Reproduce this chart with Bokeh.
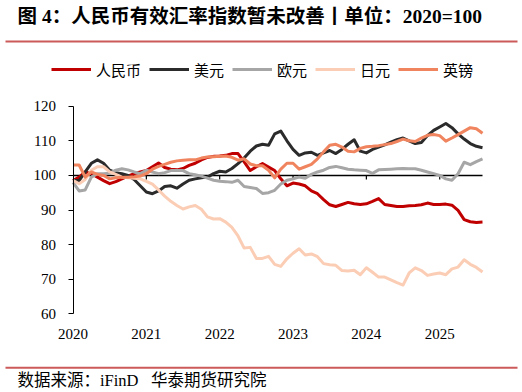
from bokeh.plotting import figure
from bokeh.models import (Range1d, Label, Legend, LegendItem, FixedTicker, LinearAxis,
                          ColumnDataSource, BoxAnnotation)
from bokeh.embed import file_html
from bokeh.resources import INLINE

# ---------------- data (monthly, Jan 2020 - Aug 2025) ----------------
start_year = 2020
rmb = [98.5, 99.5, 101, 100.5, 99.5, 98.5, 97.6, 98.2, 99, 99.8, 100.5, 101,
       101.4, 102.5, 103.6, 102.3, 101.8, 101.6, 102, 102.9, 103.5, 104.5, 105.2, 105.5,
       105.6, 105.8, 106.3, 106.3, 103.9, 101.4, 102.5, 103.4, 102.4, 101.4, 99, 97,
       97.8, 97.5, 97, 95.5, 94.7, 93, 91.5, 91, 91.6, 92.2, 91.8, 91.6,
       91.8, 92.5, 93.3, 91.6, 91.3, 91, 91, 91.2, 91.3, 91.5, 92, 91.6,
       91.6, 91.7, 91.4, 89.9, 87.2, 86.6, 86.4, 86.5]
usd = [98.5, 98.5, 101, 103.5, 104.5, 103.5, 101.5, 100.8, 100.5, 100, 98.8, 97,
       95.2, 94.7, 95.5, 96.8, 97, 96.3, 97.5, 98.6, 99, 99.3, 99.5, 100.5,
       101.2, 101, 102, 103.4, 105, 107, 108.5, 109, 108.7, 112, 112.8, 110,
       107.5, 105.8, 106.5, 106.7, 105.8, 106.5, 107.2, 106.3, 107.5, 109, 110.3, 107,
       106.5, 107.5, 108.2, 108.8, 109.6, 110.3, 110.8, 110, 109.2, 109.5, 111.5, 113,
       114, 115, 113.8, 112, 110.5, 109.2, 108.4, 108]
eur = [98, 95.5, 95.8, 99.5, 100.5, 100.5, 100.6, 101.5, 101.9, 101.6, 101, 100.5,
       101.5, 101, 100.5, 100.8, 101.4, 101.4, 101.4, 100.5, 100.2, 99.8, 99.2, 98.6,
       98.3, 98.2, 98, 98.6, 96.8, 96.5, 96.2, 94.8, 95, 95.7, 97.5, 98.6,
       99, 99.5, 99.2, 100.3, 101, 101.5, 102.3, 102.6, 102.2, 101.8, 101.6, 101.5,
       101.4, 100.6, 101.6, 101.7, 101.8, 101.9, 102, 101.9, 101.9, 101.5, 101, 100.5,
       100, 99, 98.6, 100.5, 103.8, 103.1, 104, 104.8]
jpy = [98.6, 97.6, 98.8, 101.5, 102.5, 102.5, 101, 100.3, 99.5, 99.3, 99.2, 99,
       98.3, 97.5, 95.8, 94, 92.5, 91.3, 90.3, 90.9, 91.3, 90.2, 88, 87.4,
       87.5, 86.5, 85, 82.5, 79, 79.2, 76, 76, 76.6, 74.3, 73.7, 75.9,
       77.5, 78.8, 77, 77.3, 76.5, 74.5, 74.2, 74, 72.5, 72.4, 72.6, 71.3,
       73.3, 72, 70.6, 70.6, 69.8, 69, 68.3, 71.8, 73.3, 72.5, 71.1, 71.5,
       71.8, 71.3, 73, 73.5, 75.6, 74.3, 73.4, 72.1]
gbp = [103, 103, 99.5, 101, 100.3, 100, 99, 99.3, 99.5, 99.5, 99.6, 99.8,
       100.5, 101.8, 102.6, 103.2, 103.8, 104.2, 104.4, 104.5, 104.5, 105, 105.3, 105.4,
       105.5, 105.6, 105.2, 104.4, 104.8, 103.3, 102.8, 102.8, 101.5, 99.3, 101.8, 103.5,
       103.5, 101.8, 102.5, 103.2, 104.8, 106.8, 108.7, 109, 108.2, 107, 106.8, 107.8,
       108.3, 108.4, 108.6, 108.9, 109.2, 109.8, 110.5, 110, 109.8, 110.8, 111.6, 111.8,
       111.5, 109.9, 110.8, 111.8, 112.8, 113.8, 113.5, 112.2]

series_names = ["人民币", "美元", "欧元", "日元", "英镑"]
series_values = [rmb, usd, eur, jpy, gbp]
series_colors = ["#C00000", "#2B2B2B", "#A6A6A6", "#FBCDB5", "#F0845E"]

year_ticks = [2020, 2021, 2022, 2023, 2024, 2025]
y_ticks = [60, 70, 80, 90, 100, 110, 120]
y_min, y_max = 60, 120
base_level = 100

title_text = "图 4：人民币有效汇率指数暂未改善丨单位：2020=100"
source_text = "数据来源：iFinD\u00a0\u00a0\u00a0华泰期货研究院"

n = len(rmb)
xs = [start_year + i / 12 for i in range(n)]

# ---------------- layout (pixels inside the canvas) ----------------
W, H = 522, 392
PL, PR, PT, PB = 72.5, 482, 105.7, 313.3      # plot area edges
x_per_px = (xs[-1] - xs[0]) / (PR - PL)
y_per_px = (y_max - y_min) / (PB - PT)
x_range = Range1d(xs[0] - PL * x_per_px, xs[-1] + (W - PR) * x_per_px)
y_range = Range1d(y_min - (H - PB) * y_per_px, y_max + PT * y_per_px)

CJK = "Liberation Serif, Noto Sans CJK SC"
RULE = "#CC5A5A"

p = figure(width=W, height=H, x_range=x_range, y_range=y_range,
           output_backend="svg", toolbar_location=None, min_border=0,
           x_axis_location=None, y_axis_location=None)
p.outline_line_color = None
p.grid.visible = False

yax = LinearAxis(fixed_location=start_year, bounds=(y_min, y_max),
                 ticker=FixedTicker(ticks=y_ticks))
yax.axis_line_color = "black"
yax.major_tick_line_color = "black"
yax.major_tick_out = 5
yax.major_tick_in = 0
yax.minor_tick_line_color = None
yax.major_label_text_font = "Liberation Serif"
yax.major_label_text_font_size = "15px"
yax.major_label_text_color = "black"
yax.major_label_standoff = 12
p.add_layout(yax, "left")

xax = LinearAxis(fixed_location=y_min, bounds=(xs[0], xs[-1]),
                 ticker=FixedTicker(ticks=year_ticks))
xax.axis_line_color = None
xax.major_tick_line_color = None
xax.minor_tick_line_color = None
xax.major_label_text_font = "Liberation Serif"
xax.major_label_text_font_size = "15px"
xax.major_label_text_color = "black"
xax.major_label_standoff = 9
p.add_layout(xax, "below")

# base line at 100 with small downward tick marks
tick_len = 4 * y_per_px
p.segment(x0=[xs[0]], y0=[base_level], x1=[xs[-1]], y1=[base_level],
          line_color="black", line_width=1.5)
p.segment(x0=year_ticks[1:], y0=[base_level] * 5, x1=year_ticks[1:],
          y1=[base_level - tick_len] * 5, line_color="black", line_width=1.2)

items = []
for name, vals, col in zip(series_names, series_values, series_colors):
    src = ColumnDataSource(dict(x=xs, y=vals))
    r = p.line("x", "y", source=src, line_color=col, line_width=3, line_join="round")
    items.append(LegendItem(label=name, renderers=[r]))

legend = Legend(items=items, orientation="horizontal", location=(51, H - 69.3 - 10.3),
                glyph_width=40, glyph_height=16, label_height=16, label_standoff=5,
                spacing=8, padding=0, margin=0, border_line_color=None,
                background_fill_alpha=0, label_text_font="Noto Sans CJK SC",
                label_text_font_size="15px", label_text_color="#000000")
p.add_layout(legend, "center")

# title, rules and source note (screen units from the canvas' bottom-left)
p.add_layout(Label(x=17, y=H - 15.8, x_units="screen", y_units="screen",
                   text=title_text, text_font=CJK, text_font_style="bold",
                   text_font_size="19.5px", text_baseline="middle", text_color="#000000"))
p.add_layout(BoxAnnotation(left=5, right=517, bottom=H - 42, top=H - 40,
                           left_units="screen", right_units="screen",
                           bottom_units="screen", top_units="screen",
                           fill_color=RULE, fill_alpha=1, line_alpha=0))
p.add_layout(BoxAnnotation(left=5, right=517, bottom=H - 368.3, top=H - 366.3,
                           left_units="screen", right_units="screen",
                           bottom_units="screen", top_units="screen",
                           fill_color=RULE, fill_alpha=1, line_alpha=0))
p.add_layout(Label(x=17, y=H - 380, x_units="screen", y_units="screen",
                   text=source_text, text_font=CJK,
                   text_font_size="16.5px", text_baseline="middle", text_color="#000000"))

open("out.html", "w").write(file_html(p, INLINE))
